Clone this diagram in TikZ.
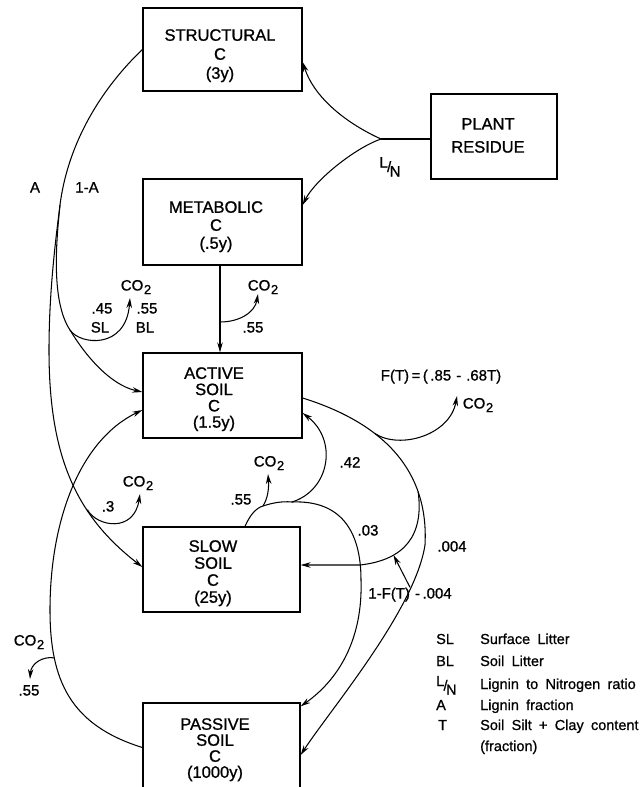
\documentclass[tikz,border=0pt]{standalone}
\usepackage{fontspec}
\setmainfont{Liberation Sans}[FakeBold=1]
\newfontfamily\legfont{Liberation Sans}[WordSpace=1.8,FakeBold=0.8]
\usetikzlibrary{arrows.meta}
\newcommand{\COt}{CO\kern0.04em\raisebox{-0.45ex}{\fontsize{13}{13}\selectfont 2}}
\newcommand{\LNsym}{L\kern-0.05em\raisebox{-0.3em}{/}\kern-0.1em\raisebox{-0.6em}{N}}
\begin{document}
\begin{tikzpicture}[x=1pt,y=-1pt,
  box/.style={draw, line width=1.3pt, inner sep=0pt},
  boxtxt/.style={align=center, inner sep=0pt},
  lab/.style={inner sep=0pt, text height=11pt, text depth=0pt, font=\fontsize{15}{18}\selectfont},
  leg/.style={inner sep=0pt, anchor=west, text height=10pt, text depth=0pt, font=\legfont\fontsize{14.5}{17}\selectfont},
  conn/.style={line width=1.05pt},
  arr/.style={conn, -{Stealth[length=10pt,width=5.5pt]}}]
\useasboundingbox (0,0) rectangle (643,787);
\clip (0,0) rectangle (643,787);

% boxes
\node[box, minimum width=159pt, minimum height=83pt] (struct) at (222.5,49.5) {};
\node[box, minimum width=126pt, minimum height=85pt] (plant) at (494,136.5) {};
\node[box, minimum width=159pt, minimum height=86pt] (metab) at (222.5,222) {};
\node[box, minimum width=159pt, minimum height=85pt] (active) at (222.5,395.5) {};
\node[box, minimum width=157pt, minimum height=85pt] (slow) at (221.5,569.5) {};
\node[box, minimum width=157pt, minimum height=89pt] (passive) at (221.5,747.5) {};

% box texts
\node[boxtxt, font=\fontsize{16.5}{19}\selectfont] (structT) at (220,55.7) {STRUCTURAL\\C\\(3y)};
\node[boxtxt, font=\fontsize{16.5}{23}\selectfont] (plantT) at (488,135.5) {PLANT\\RESIDUE};
\node[boxtxt, font=\fontsize{16.5}{18}\selectfont] (metabT) at (216,226.7) {METABOLIC\\C\\(.5y)};
\node[boxtxt, font=\fontsize{16.5}{16.3}\selectfont] (activeT) at (214,399.2) {ACTIVE\\SOIL\\C\\(1.5y)};
\node[boxtxt, font=\fontsize{16.5}{17}\selectfont] (slowT) at (213,573.2) {SLOW\\SOIL\\C\\(25y)};
\node[boxtxt, font=\fontsize{16.5}{16}\selectfont] (passiveT) at (215,749.7) {PASSIVE\\SOIL\\C\\(1000y)};

% labels
\node[lab] (lA) at (35,187) {A};
\node[lab] (l1A) at (87,187) {1-A};
\node[lab] (co2a) at (136,285) {\COt};
\node[lab] (l45) at (102,308) {.45};
\node[lab] (l55a) at (147,308) {.55};
\node[lab] (lSL) at (100,327) {SL};
\node[lab] (lBL) at (145,327) {BL};
\node[lab] (co2b) at (263,285) {\COt};
\node[lab] (l55b) at (253,327) {.55};
\node[lab] (lLN) at (390,162) {\LNsym};
\node[lab] (lF) at (441,375) {F(T)\,=\,(\,.85\,\,-\,\,.68T)};
\node[lab] (co2f) at (478,403) {\COt};
\node[lab] (l42) at (350,462) {.42};
\node[lab] (co2c) at (269,461) {\COt};
\node[lab] (l55c) at (241,499) {.55};
\node[lab] (co2d) at (138,481) {\COt};
\node[lab] (l3) at (108,506) {.3};
\node[lab] (l03) at (368,530) {.03};
\node[lab] (l004) at (452,546) {.004};
\node[lab] (ftl) at (410,593) {1-F(T)\,\,-\,.004};
\node[lab] (co2e) at (29,640) {\COt};
\node[lab] (l55d) at (29,690) {.55};

% legend
\node[leg] (kSL) at (436,639) {SL};
\node[leg] (dSL) at (480,639) {Surface Litter};
\node[leg] (kBL) at (436,661) {BL};
\node[leg] (dBL) at (480,661) {Soil Litter};
\node[leg] (kLN) at (436,681) {\LNsym};
\node[leg] (dLN) at (480,684) {Lignin to Nitrogen ratio};
\node[leg] (kA) at (436,705) {A};
\node[leg] (dA) at (480,705) {Lignin fraction};
\node[leg] (kT) at (438,725) {T};
\node[leg] (dT) at (480,725) {Soil Silt + Clay content};
\node[leg] (dT2) at (480,746) {(fraction)};

% tips of CO2 arrows
\coordinate (tipA) at (130,298);
\coordinate (tipM) at (258,294);
\coordinate (tipS) at (140,494);
\coordinate (tipP) at (30,679);
\coordinate (tipF) at (457,396);
\coordinate (tipC) at (268,474);

% plant residue split
\coordinate (J) at (381,139);
\draw[conn] ([yshift=-2.5pt]plant.west) -- (J);
\draw[arr] (J) .. controls (350,125) and (315,100) .. ([yshift=-12.5pt]struct.east);
\draw[arr] (J) .. controls (355,148) and (315,180) .. ([yshift=17pt]metab.east);

% structural -> A / 1-A
\coordinate (sp) at (60,205);
\draw[conn] (struct.west) .. controls (95,95) and (67,150) .. (sp);
\draw[arr] (sp) .. controls (56,237) and (49,290) .. (49,350)
  .. controls (49,455) and (75,515) .. ([yshift=2.5pt]slow.west) coordinate[pos=0.66] (brA);
\draw[arr] (sp) .. controls (57,235) and (50,300) .. (70,330) coordinate (brIA)
  .. controls (85,355) and (110,385) .. ([yshift=3.5pt]active.west);
\draw[arr] (brIA) .. controls (80,345) and (126,350) .. (tipA);
\draw[arr] (brA) .. controls (97,527) and (134,533) .. (tipS);

% metabolic -> active
\draw[arr] ([xshift=-2.5pt]metab.south) -- ([xshift=-2.5pt]active.north) coordinate[pos=0.65] (brM);
\draw[arr] (brM) .. controls (240,322) and (255,312) .. (tipM);

% passive -> active
\draw[arr] (passive.west) .. controls (70,725) and (50,680) .. (50,610) coordinate[pos=0.75] (brP)
  .. controls (50,520) and (80,440) .. ([yshift=-14.5pt]active.west);
\draw[arr] (brP) .. controls (42,656) and (31,664) .. (tipP);

% active -> passive (.004), CO2, slow
\draw[arr] ([yshift=-2.5pt]active.east) .. controls (405,430) and (428,490) .. (425,545)
  coordinate[pos=0.3] (brF) coordinate[pos=0.68] (brG)
  .. controls (415,610) and (330,710) .. ([yshift=-7.5pt]passive.east);
\draw[arr] (brF) .. controls (400,450) and (450,435) .. (tipF);
\draw[arr] (brG) .. controls (424,535) and (405,560) .. (360,565) coordinate[pos=0.7] (brH)
  -- ([yshift=4.5pt]slow.east);
\draw[arr] (ftl.north) -- (brH);

% slow -> CO2, active, passive
\coordinate (sp2) at (263,506);
\coordinate (sp3) at (292,502);
\draw[conn] ([xshift=23.5pt]slow.north) .. controls (250,515) and (256,508) .. (sp2)
  .. controls (272,503) and (282,501) .. (sp3);
\draw[arr] (sp2) .. controls (268,498) and (269,488) .. (tipC);
\draw[arr] (sp3) .. controls (330,490) and (338,440) .. ([yshift=-17.5pt]active.east);
\draw[arr] (sp3) .. controls (340,500) and (361,530) .. (361,580)
  .. controls (363,640) and (338,680) .. ([yshift=-4pt]passive.north east);
\end{tikzpicture}
\end{document}
